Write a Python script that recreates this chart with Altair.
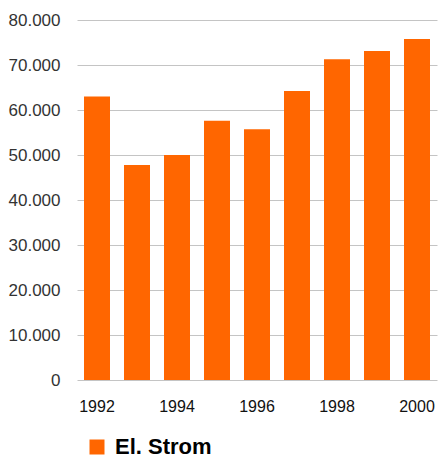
import altair as alt
import pandas as pd

years = ["1992", "1993", "1994", "1995", "1996", "1997", "1998", "1999", "2000"]
values = [63000, 47800, 50000, 57600, 55700, 64200, 71300, 73100, 75800]
series = ["El. Strom"] * len(years)
x_tick_labels = ["1992", "1994", "1996", "1998", "2000"]
y_ticks = [0, 10000, 20000, 30000, 40000, 50000, 60000, 70000, 80000]

df = pd.DataFrame({"Jahr": years, "Wert": values, "Serie": series})

chart = alt.Chart(df).mark_bar(color="#FF6600").encode(
    x=alt.X(
        "Jahr:O",
        sort=years,
        scale=alt.Scale(paddingInner=0.35, paddingOuter=0.175),
        axis=alt.Axis(
            title=None,
            values=x_tick_labels,
            labelAngle=0,
            domain=False,
            ticks=False,
            grid=False,
            labelFont="Liberation Sans",
            labelFontSize=16,
            labelColor="#111111",
            labelPadding=18,
        ),
    ),
    y=alt.Y(
        "Wert:Q",
        scale=alt.Scale(domain=[0, 80000], nice=False),
        axis=alt.Axis(
            title=None,
            values=y_ticks,
            labelExpr="replace(format(datum.value, ',d'), ',', '.')",
            domain=False,
            ticks=False,
            grid=True,
            gridColor="#c4c4c4",
            gridWidth=1,
            labelFont="Liberation Sans",
            labelFontSize=17,
            labelColor="#333333",
            labelPadding=17,
        ),
    ),
    color=alt.Color(
        "Serie:N",
        scale=alt.Scale(range=["#FF6600"]),
        legend=alt.Legend(
            title=None,
            orient="none",
            legendX=9,
            legendY=416,
            symbolType="square",
            symbolSize=225,
            symbolStrokeWidth=0,
            symbolOpacity=1,
            labelFont="Liberation Sans",
            labelFontSize=22,
            labelFontWeight="bold",
            labelColor="#000000",
            labelOffset=7,
            padding=0,
        ),
    ),
).properties(
    width=360,
    height=360,
    autosize=alt.AutoSizeParams(type="none"),
    padding={"left": 69, "top": 12, "right": 1, "bottom": 81},
).configure_view(stroke=None)

chart.save("out.html", embed_options={"renderer": "svg", "actions": False})
